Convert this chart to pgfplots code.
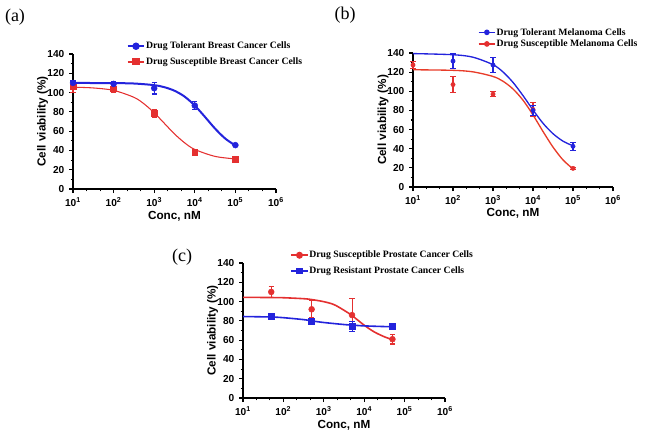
\documentclass[border=0pt]{standalone}
\usepackage{fontspec}
\setmainfont{Liberation Serif}
\setsansfont{Liberation Sans}
\usepackage{pgfplots}
\pgfplotsset{compat=1.18}

\definecolor{cblue}{RGB}{35,35,220}
\definecolor{cred}{RGB}{228,48,48}

\newcommand{\ticklab}{\sffamily\bfseries\fontsize{7.6}{8}\selectfont}
\newcommand{\axlab}{\sffamily\bfseries\fontsize{8.8}{9}\selectfont}
\newcommand{\leglab}{\rmfamily\bfseries\fontsize{7.3}{8}\selectfont}

% shared look of the three panels
\pgfplotsset{
  scale only axis, clip=false,
  axis lines=left, axis line style={-, line width=0.8pt},
  tick align=outside, major tick length=3pt, minor tick length=1.8pt,
  every tick/.style={black, line width=0.8pt},
  xtick={10,100,1000,10000,100000,1000000},
  xticklabels={10\textsuperscript{1},10\textsuperscript{2},10\textsuperscript{3},10\textsuperscript{4},10\textsuperscript{5},10\textsuperscript{6}},
  minor xtick={21.54,46.42,215.4,464.2,2154,4642,21544,46416,215443,464159},
  ytick={0,20,...,140}, minor ytick={10,30,...,130},
  ticklabel style={font=\ticklab},
  xlabel style={font=\axlab, at={(axis description cs:0.5,-0.2)}, anchor=center},
  ylabel style={font=\axlab, at={(axis description cs:-0.15,0.5)}, anchor=center},
  legend cell align=left,
  legend image code/.code={\draw[mark repeat=2,mark phase=2,#1] plot coordinates {(0cm,0cm) (0.22cm,0cm) (0.44cm,0cm)};},
  legend style={draw=none, fill=none, inner sep=0pt, font=\leglab,
    nodes={inner sep=0.5pt, text height=5.5pt, text depth=1.5pt}},
}

\begin{document}
\begin{tikzpicture}
\useasboundingbox (0,0) rectangle (483.75pt,-330pt);

\node[font=\rmfamily\fontsize{13.5}{14}\selectfont] at (11.25pt,-12.75pt) {(a)};
\node[font=\rmfamily\fontsize{13.5}{14}\selectfont] at (258.75pt,-11.25pt) {(b)};
\node[font=\rmfamily\fontsize{13.5}{14}\selectfont] at (136.5pt,-192.75pt) {(c)};

% (a) breast cancer cells
\begin{axis}[at={(54.75pt,-141.75pt)}, anchor=south west,
  width=152.25pt, height=101.25pt,
  xmode=log, xmin=10, xmax=1e6, ymin=0, ymax=140,
  /pgf/number format/assume math mode=true,
  xlabel={Conc, nM}, ylabel={Cell viability (\%)},
  legend style={at={(axis description cs:0.263,1.099)}, anchor=north west, row sep=3.5pt}]
\addplot[cred, line width=0.8pt, smooth, forget plot] coordinates {
  (10,105.6) (31.62,104.8) (100,102.3) (316.2,95.1) (562.3,88.3) (1000,79.0)
  (1778,68.1) (3162,57.1) (5623,47.9) (10000,41.0) (31623,33.8) (100000,31.2)};
\addplot[cblue, line width=1.5pt, smooth, forget plot] coordinates {
  (10,110) (100,109.8) (316.2,109.4) (1000,107.7) (1778,105.6) (3162,101.9)
  (5623,95.8) (10000,86.5) (17783,74.8) (31623,62.6) (56234,52.3) (100000,45.1)};
\addplot[cred, only marks, mark=square*, mark size=2.2pt, forget plot,
  error bars/.cd, y dir=both, y explicit,
  error bar style={line width=0.8pt},
  error mark options={rotate=90, mark size=2pt, line width=0.8pt}] coordinates {
  (10,106) +- (0,6) (100,104) +- (0,4) (1000,78.5) +- (0,4)
  (10000,38.5) +- (0,1.5) (100000,31) +- (0,1.5)};
\addplot[cblue, only marks, mark=*, mark size=2.2pt, forget plot,
  error bars/.cd, y dir=both, y explicit,
  error bar style={line width=0.8pt},
  error mark options={rotate=90, mark size=2pt, line width=0.8pt}] coordinates {
  (10,110) +- (0,2) (100,109) +- (0,2) (1000,104.5) +- (0,6)
  (10000,86.5) +- (0,4) (100000,45.5) +- (0,1)};
\addlegendimage{cblue, line width=1.5pt, mark=*, mark size=2pt}
\addlegendentry{Drug Tolerant Breast Cancer Cells}
\addlegendimage{cred, line width=1.5pt, mark=square*, mark size=2pt}
\addlegendentry{Drug Susceptible Breast Cancer Cells}
\end{axis}

% (b) melanoma cells
\begin{axis}[at={(309.75pt,-140.25pt)}, anchor=south west,
  width=150pt, height=100.5pt,
  xmode=log, xmin=10, xmax=1e6, ymin=0, ymax=140,
  /pgf/number format/assume math mode=true,
  xlabel={Conc, nM}, ylabel={Cell viability (\%)},
  legend style={at={(axis description cs:0.323,1.196)}, anchor=north west, row sep=0.7pt}]
\addplot[cblue, line width=1pt, smooth, forget plot] coordinates {
  (10,139.4) (100,138.2) (316.2,135.6) (1000,127.8) (1778,120.2) (3162,109.3)
  (5623,95.5) (10000,80.5) (17783,66.6) (31623,55.7) (56234,47.9) (100000,43.0)};
\addplot[cred!85!orange, line width=1pt, smooth, forget plot] coordinates {
  (10,122.5) (100,121.9) (316.2,120.3) (1000,115.5) (1778,110.5) (3162,102.4)
  (5623,90.7) (10000,75.3) (17783,58.0) (31623,41.7) (56234,28.3) (100000,18.9)};
\addplot[cred, only marks, mark=*, mark size=1.6pt, forget plot,
  error bars/.cd, y dir=both, y explicit,
  error bar style={line width=0.8pt},
  error mark options={rotate=90, mark size=2pt, line width=0.8pt}] coordinates {
  (10,127.5) +- (0,4) (100,107) +- (0,8) (1000,97) +- (0,2.5)
  (10000,81) +- (0,7) (100000,19.5) +- (0,1)};
\addplot[cblue, only marks, mark=*, mark size=1.6pt, forget plot,
  error bars/.cd, y dir=both, y explicit,
  error bar style={line width=0.8pt},
  error mark options={rotate=90, mark size=2pt, line width=0.8pt}] coordinates {
  (100,131.5) +- (0,8) (1000,127.5) +- (0,8)
  (10000,80) +- (0,5) (100000,42.5) +- (0,4)};
\addlegendimage{cblue, line width=1pt, mark=*, mark size=1.6pt}
\addlegendentry{Drug Tolerant Melanoma Cells}
\addlegendimage{cred, line width=1pt, mark=*, mark size=1.6pt}
\addlegendentry{Drug Susceptible Melanoma Cells}
\end{axis}

% (c) prostate cancer cells
\begin{axis}[at={(182.25pt,-298.5pt)}, anchor=south west,
  width=151.5pt, height=101.25pt,
  xmode=log, xmin=10, xmax=1e6, ymin=0, ymax=140,
  /pgf/number format/assume math mode=true,
  xlabel={Conc, nM}, ylabel={Cell viability (\%)},
  legend style={at={(axis description cs:0.233,1.099)}, anchor=north west, row sep=3.8pt}]
\addplot[cred, line width=1.2pt, smooth, forget plot] coordinates {
  (10,104.4) (50,104.2) (100,104.0) (316.2,103.0) (500,102.1) (1000,99.9)
  (1778,96.9) (3162,91.0) (5000,85.5) (10000,75.5) (17783,68.5) (31623,63.5) (50000,60.5)};
\addplot[cblue, line width=1.2pt, smooth, forget plot] coordinates {
  (10,84.5) (50,84.0) (100,83.3) (316.2,81.3) (500,80.0) (1000,78.3)
  (3162,76.2) (5000,75.6) (10000,74.8) (31623,74.1) (50000,74.0)};
\addplot[cred, only marks, mark=*, mark size=2.2pt, forget plot,
  error bars/.cd, y dir=both, y explicit,
  error bar style={line width=0.8pt},
  error mark options={rotate=90, mark size=2pt, line width=0.8pt}] coordinates {
  (50,110) +- (0,5.5) (500,92) +- (0,9) (5000,86) +- (0,17) (50000,61) +- (0,5)};
\addplot[cblue, only marks, mark=square*, mark size=2.2pt, forget plot,
  error bars/.cd, y dir=both, y explicit,
  error bar style={line width=0.8pt},
  error mark options={rotate=90, mark size=2pt, line width=0.8pt}] coordinates {
  (50,84.5) +- (0,1) (500,79.5) +- (0,2) (5000,74) +- (0,5) (50000,74) +- (0,1)};
\addlegendimage{cred, line width=1.2pt, mark=*, mark size=2pt}
\addlegendentry{Drug Susceptible Prostate Cancer Cells}
\addlegendimage{cblue, line width=1.2pt, mark=square*, mark size=2pt}
\addlegendentry{Drug Resistant Prostate Cancer Cells}
\end{axis}
\end{tikzpicture}
\end{document}
